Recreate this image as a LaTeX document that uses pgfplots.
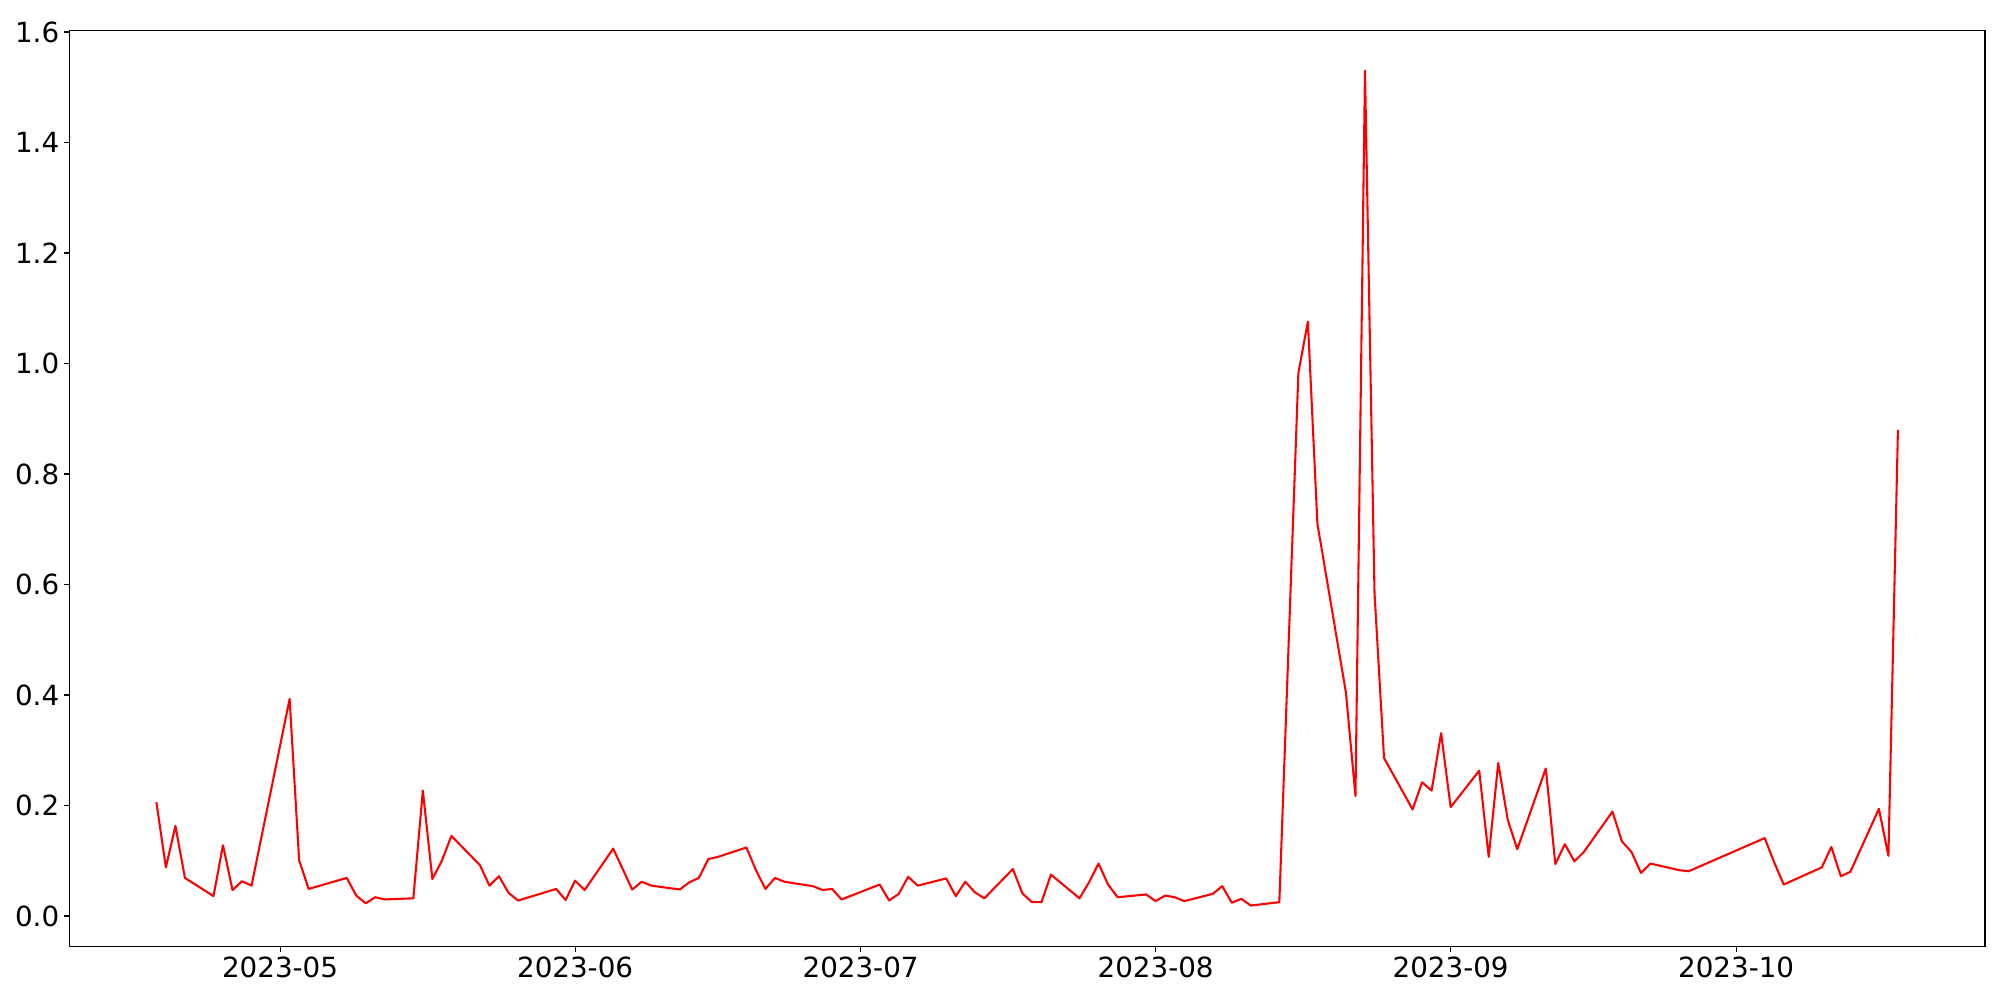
\documentclass[border=0pt]{standalone}
\usepackage{fontspec}
\setmainfont{DejaVu Sans}
\usepackage{pgfplots}
\pgfplotsset{compat=1.18}
\usepackage{pgfplotstable}
% day = days since 2023-04-18 ; value in units of 1e6
\pgfplotstableread{
day value
0 0.206
1 0.088
2 0.163
3 0.069
6 0.036
7 0.128
8 0.047
9 0.063
10 0.055
14 0.393
15 0.101
16 0.049
20 0.069
21 0.037
22 0.023
23 0.034
24 0.030
27 0.032
28 0.227
29 0.067
30 0.100
31 0.145
34 0.092
35 0.055
36 0.072
37 0.042
38 0.028
42 0.049
43 0.029
44 0.064
45 0.047
48 0.122
50 0.048
51 0.062
52 0.055
55 0.048
56 0.061
57 0.069
58 0.103
59 0.107
62 0.124
63 0.083
64 0.049
65 0.069
66 0.062
69 0.054
70 0.047
71 0.049
72 0.030
76 0.057
77 0.028
78 0.040
79 0.071
80 0.055
83 0.068
84 0.036
85 0.062
86 0.043
87 0.032
90 0.085
91 0.041
92 0.025
93 0.025
94 0.075
97 0.032
98 0.061
99 0.095
100 0.057
101 0.034
104 0.039
105 0.027
106 0.037
107 0.034
108 0.027
111 0.040
112 0.054
113 0.024
114 0.031
115 0.019
118 0.025
120 0.983
121 1.076
122 0.710
125 0.404
126 0.217
127 1.530
128 0.585
129 0.286
132 0.193
133 0.242
134 0.227
135 0.331
136 0.197
139 0.263
140 0.107
141 0.277
142 0.174
143 0.121
146 0.267
147 0.094
148 0.130
149 0.099
150 0.116
153 0.189
154 0.135
155 0.116
156 0.078
157 0.095
160 0.083
161 0.081
169 0.141
170 0.097
171 0.057
175 0.088
176 0.125
177 0.072
178 0.080
181 0.194
182 0.109
183 0.880
}\series
\begin{document}
\begin{tikzpicture}
\path[use as bounding box] (0,0) rectangle (200mm,100mm);
\begin{axis}[
  at={(6.93mm,5.33mm)}, anchor=south west,
  scale only axis, width=191.57mm, height=91.6mm,
  xmin=-9.15, xmax=192.15,
  ymin=-0.0555, ymax=1.6024,
  xtick={13,44,74,105,136,166},
  xticklabels={2023-05,2023-06,2023-07,2023-08,2023-09,2023-10},
  ytick={0,0.2,0.4,0.6,0.8,1.0,1.2,1.4,1.6},
  yticklabel style={/pgf/number format/.cd, fixed, fixed zerofill, precision=1},
  /pgf/number format/assume math mode=true,
  tick label style={font=\fontsize{7.9pt}{9pt}\selectfont, inner sep=0.45mm},
  xtick pos=left, ytick pos=left,
  tick align=outside,
  major tick length=0.49mm,
  axis line style={line width=0.315pt},
  every tick/.style={line width=0.315pt, black},
  scaled y ticks=false,
  clip=true,
]
\addplot[red, line width=0.59pt, line join=round] table[x=day, y=value] {\series};
\node[anchor=south west, inner sep=0pt, font=\fontsize{3.94pt}{4.5pt}\selectfont] at (rel axis cs:0,1) [yshift=0.45mm] {1e6};
\end{axis}
\end{tikzpicture}
\end{document}
